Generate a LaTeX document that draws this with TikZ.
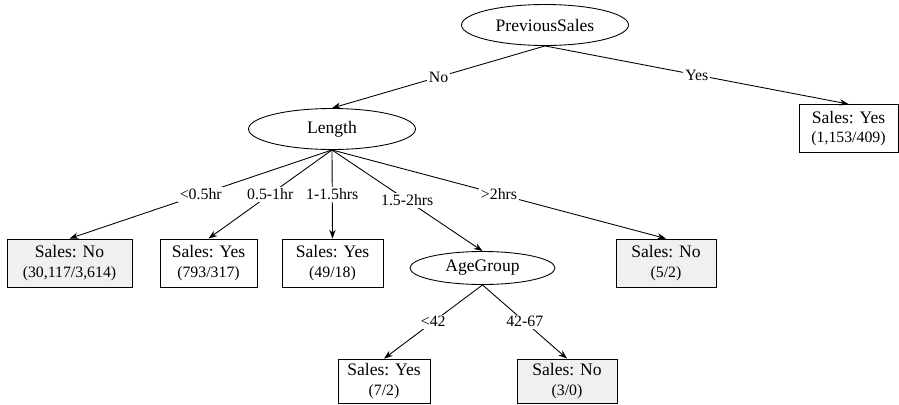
\documentclass[tikz,border=0pt]{standalone}
\usepackage{fontspec}
\setmainfont{Liberation Serif}
\usetikzlibrary{shapes.geometric,arrows.meta}

\newcommand{\cnt}[1]{\\[-1pt]{\fontsize{9}{10}\selectfont #1}}

\begin{document}
\begin{tikzpicture}[
    line width=0.5pt,
    test/.style={draw, ellipse, minimum width=3.34cm, minimum height=0.82cm, inner sep=0pt,
        font=\fontsize{10}{12}\selectfont},
    leaf/.style={draw, minimum width=2cm, minimum height=0.96cm, align=center, inner sep=1pt,
        font=\fontsize{10}{12}\selectfont},
    neg/.style={leaf, fill=black!6},
    edge/.style={-{Stealth[length=5pt, width=3.6pt]}},
    lbl/.style={fill=white, inner sep=1pt, font=\fontsize{9}{10}\selectfont}
]
    \useasboundingbox (0,0) rectangle (17.98,-8.08);
    % tests
    \node[test] (prev) at (10.9,-0.5) {PreviousSales};
    \node[test] (len) at (6.64,-2.58) {Length};
    \node[test, minimum width=2.9cm, minimum height=0.66cm] (age) at (9.65,-5.36) {AgeGroup};
    % leaves
    \node[leaf, minimum width=1.98cm] (yes) at (16.97,-2.57) {Sales: Yes\cnt{(1,153/409)}};
    \node[neg, minimum width=2.5cm] (l1) at (1.39,-5.26) {Sales: No\cnt{(30,117/3,614)}};
    \node[leaf, minimum width=1.94cm] (l2) at (4.17,-5.26) {Sales: Yes\cnt{(793/317)}};
    \node[leaf, minimum width=2.02cm] (l3) at (6.65,-5.26) {Sales: Yes\cnt{(49/18)}};
    \node[neg] (l5) at (13.32,-5.26) {Sales: No\cnt{(5/2)}};
    \node[leaf, minimum width=1.84cm, minimum height=0.88cm] (a1) at (7.68,-7.62) {Sales: Yes\cnt{(7/2)}};
    \node[neg, minimum height=0.88cm] (a2) at (11.34,-7.62) {Sales: No\cnt{(3/0)}};
    % branches
    \foreach \a/\b/\l in {prev/len/No, prev/yes/Yes, len/l1/<0.5hr, len/l2/0.5-1hr,
        len/l3/1-1.5hrs, len/age/1.5-2hrs, len/l5/>2hrs, age/a1/<42, age/a2/42-67} {
        \draw[edge] (\a.south) -- node[lbl] {\l} (\b.north);
    }
\end{tikzpicture}
\end{document}
